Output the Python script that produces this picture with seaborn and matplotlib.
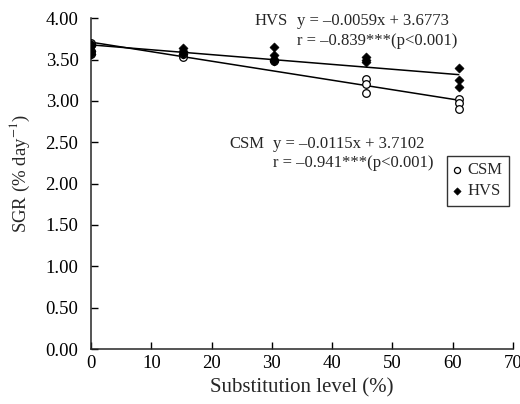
import numpy as np
import pandas as pd
import matplotlib
matplotlib.use("Agg")
import matplotlib.pyplot as plt
import seaborn as sns

sns.set_style("ticks")
plt.rcParams['font.family'] = ['Liberation Serif', 'DejaVu Serif']
plt.rcParams['mathtext.fontset'] = 'stix'

# substitution levels (%) and SGR values
csm_x = [0, 0, 0, 0, 15.2, 15.2, 30.4, 30.4, 45.6, 45.6, 45.6, 61, 61, 61]
csm_y = [3.70, 3.67, 3.60, 3.57, 3.53, 3.57, 3.50, 3.48, 3.27, 3.20, 3.10, 3.02, 2.97, 2.90]
hvs_x = [0, 0, 0, 0, 15.2, 15.2, 15.2, 30.4, 30.4, 30.4, 30.4, 45.6, 45.6, 45.6, 61, 61, 61]
hvs_y = [3.69, 3.66, 3.60, 3.57, 3.64, 3.60, 3.57, 3.65, 3.55, 3.50, 3.48, 3.53, 3.50, 3.47, 3.40, 3.25, 3.17]

# regression coefficients printed on the chart
csm_fit = (-0.0115, 3.7102)
hvs_fit = (-0.0059, 3.6773)

x_ticks = [0, 10, 20, 30, 40, 50, 60, 70]
y_ticks = [0.0, 0.5, 1.0, 1.5, 2.0, 2.5, 3.0, 3.5, 4.0]

csm_df = pd.DataFrame({'level': csm_x, 'sgr': csm_y})
hvs_df = pd.DataFrame({'level': hvs_x, 'sgr': hvs_y})

fig = plt.figure(figsize=(5.2, 4.04), dpi=100)
ax = fig.add_axes([0.175, 0.136, 0.8115, 0.819])

#fitted lines over the data range
line_x = np.array([0, 61])
for slope, icpt in (csm_fit, hvs_fit):
    sns.lineplot(x=line_x, y=slope * line_x + icpt, ax=ax, color='black', lw=1.1)

sns.scatterplot(data=csm_df, x='level', y='sgr', ax=ax, marker='o', s=30,
                facecolor='white', edgecolor='black', linewidth=0.9, label='CSM', zorder=3)
sns.scatterplot(data=hvs_df, x='level', y='sgr', ax=ax, marker='D', s=22,
                color='black', edgecolor='black', label='HVS', zorder=4)

ax.set_xlim(0, 70)
ax.set_ylim(0, 4.0)
ax.set_xticks(x_ticks)
ax.set_yticks(y_ticks)
ax.set_yticklabels([f'{v:.2f}' for v in y_ticks])
ax.tick_params(direction='in', length=5, width=1, labelsize=13.5, colors='black')
ax.tick_params(axis='x', pad=4)
ax.tick_params(axis='y', pad=9)
for side in ('top', 'right'):
    ax.spines[side].set_visible(False)
for side in ('left', 'bottom'):
    ax.spines[side].set_linewidth(1.1)

ax.set_xlabel('Substitution level (%)', fontsize=15, labelpad=5)
ax.set_ylabel('SGR (% day$^{-1}$)', fontsize=13.5)
ax.yaxis.set_label_coords(-0.14, 0.53)

txt = dict(fontsize=12, va='center', ha='left')
ax.text(27.2, 3.97, 'HVS', **txt)
ax.text(34.2, 3.97, 'y = –0.0059x + 3.6773', **txt)
ax.text(34.2, 3.72, 'r = –0.839***(p<0.001)', **txt)
ax.text(23.0, 2.48, 'CSM', **txt)
ax.text(30.2, 2.48, 'y = –0.0115x + 3.7102', **txt)
ax.text(30.2, 2.25, 'r = –0.941***(p<0.001)', **txt)

leg = ax.legend(loc='upper right', bbox_to_anchor=(1.01, 0.61), frameon=True,
                fancybox=False, edgecolor='black', fontsize=12, handlelength=0.4,
                handletextpad=0.4, borderpad=0.4, labelspacing=0.3, markerscale=0.8)
leg.get_frame().set_linewidth(1.0)

fig.savefig('out.png', dpi=100)
